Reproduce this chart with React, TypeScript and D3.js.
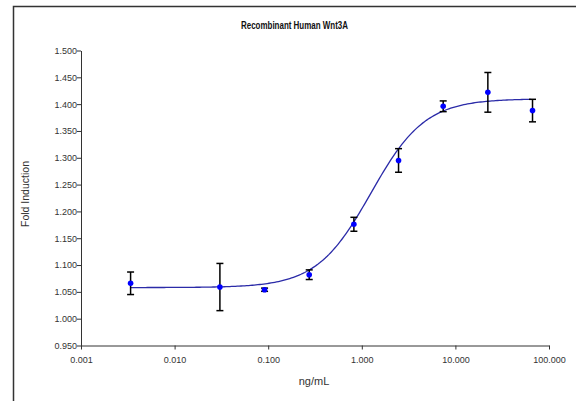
import React, { useEffect, useRef } from 'react'
import * as d3 from 'd3'

// concentrations (ng/mL), 3-fold dilutions
const conc = [0.003387, 0.03048, 0.09145, 0.2743, 0.823, 2.469, 7.407, 22.22, 66.67]
const foldMean = [1.066, 1.059, 1.054, 1.082, 1.176, 1.295, 1.396, 1.422, 1.388]
const foldErr = [0.021, 0.044, 0.003, 0.009, 0.013, 0.022, 0.010, 0.037, 0.021]

const xTicks = [0.001, 0.01, 0.1, 1, 10, 100]
const yTicks = [0.95, 1.0, 1.05, 1.1, 1.15, 1.2, 1.25, 1.3, 1.35, 1.4, 1.45, 1.5]

// 4PL fit
const fitBottom = 1.058
const fitTop = 1.41
const fitEC50 = 1.25
const fitHill = 1.5

const W = 576, H = 401
const margin = { top: 50.5, right: 27, bottom: 55.5, left: 81 }

export default function App() {
  const ref = useRef<SVGSVGElement>(null)

  useEffect(() => {
    const svg = d3.select(ref.current)
    svg.selectAll('*').remove()

    const width = W - margin.left - margin.right
    const height = H - margin.top - margin.bottom

    const x = d3.scaleLog().domain([0.001, 100]).range([0, width])
    const y = d3.scaleLinear().domain([0.95, 1.5]).range([height, 0])

    // frame
    svg.append('rect')
      .attr('x', 13.5).attr('y', 6.5)
      .attr('width', 600).attr('height', 420)
      .attr('fill', 'none').attr('stroke', '#333').attr('stroke-width', 1.5)

    svg.append('text')
      .attr('x', 241).attr('y', 29)
      .attr('textLength', 107).attr('lengthAdjust', 'spacingAndGlyphs')
      .style('font-family', 'Liberation Sans, Arial, sans-serif')
      .style('font-size', '10px').style('font-weight', 'bold').attr('fill', '#111')
      .text('Recombinant Human Wnt3A')

    const g = svg.append('g')
      .attr('transform', 'translate(' + margin.left + ',' + margin.top + ')')

    const xAxis = g.append('g')
      .attr('transform', 'translate(0,' + height + ')')
      .call(d3.axisBottom(x).tickValues(xTicks).tickFormat(d3.format('.3f')).tickSize(4).tickSizeOuter(0))
    const yAxis = g.append('g')
      .call(d3.axisLeft(y).tickValues(yTicks).tickFormat(d3.format('.3f')).tickSize(4).tickSizeOuter(0))

    ;[xAxis, yAxis].forEach(a => {
      a.select('.domain').attr('stroke', '#333')
      a.selectAll('.tick line').attr('stroke', '#333')
      a.selectAll('.tick text')
        .attr('fill', '#333')
        .style('font-family', 'Liberation Sans, Arial, sans-serif')
        .style('font-size', '9px')
    })
    xAxis.selectAll('.tick text').attr('dy', '0.71em').attr('y', 11)
    yAxis.selectAll('.tick text').attr('x', -4)

    svg.append('text')
      .attr('x', margin.left + width / 2 - 1).attr('y', 385)
      .attr('text-anchor', 'middle')
      .style('font-family', 'Liberation Sans, Arial, sans-serif')
      .style('font-size', '11px').attr('fill', '#333')
      .text('ng/mL')

    svg.append('text')
      .attr('transform', 'translate(29,194) rotate(-90)')
      .attr('text-anchor', 'middle')
      .style('font-family', 'Liberation Sans, Arial, sans-serif')
      .style('font-size', '10.5px').attr('fill', '#333')
      .text('Fold Induction')

    // fitted curve
    const fit = (c: number) => fitBottom + (fitTop - fitBottom) / (1 + Math.pow(fitEC50 / c, fitHill))
    const lx = d3.range(Math.log10(conc[0]), Math.log10(conc[conc.length - 1]) + 0.001, 0.02)
    const line = d3.line<number>()
      .x(d => x(Math.pow(10, d)))
      .y(d => y(fit(Math.pow(10, d))))
    g.append('path')
      .datum(lx)
      .attr('d', line)
      .attr('fill', 'none').attr('stroke', '#2b2ba8').attr('stroke-width', 1.3)

    const pts = conc.map((c, i) => ({ c, m: foldMean[i], e: foldErr[i] }))

    // error bars
    const eb = g.selectAll('.eb').data(pts).enter().append('g').attr('class', 'eb')
      .attr('stroke', '#000').attr('stroke-width', 1.5)
    eb.append('line')
      .attr('x1', d => x(d.c)).attr('x2', d => x(d.c))
      .attr('y1', d => y(d.m - d.e)).attr('y2', d => y(d.m + d.e))
    eb.append('line')
      .attr('x1', d => x(d.c) - 3.5).attr('x2', d => x(d.c) + 3.5)
      .attr('y1', d => y(d.m + d.e)).attr('y2', d => y(d.m + d.e))
    eb.append('line')
      .attr('x1', d => x(d.c) - 3.5).attr('x2', d => x(d.c) + 3.5)
      .attr('y1', d => y(d.m - d.e)).attr('y2', d => y(d.m - d.e))

    g.selectAll('.pt').data(pts).enter().append('circle')
      .attr('class', 'pt')
      .attr('cx', d => x(d.c)).attr('cy', d => y(d.m))
      .attr('r', 2.8).attr('fill', '#0000ff')
  }, [])

  return (
    <svg ref={ref} width={W} height={H}
      style={{ position: 'absolute', left: 0, top: 0, background: '#fff' }} />
  )
}
